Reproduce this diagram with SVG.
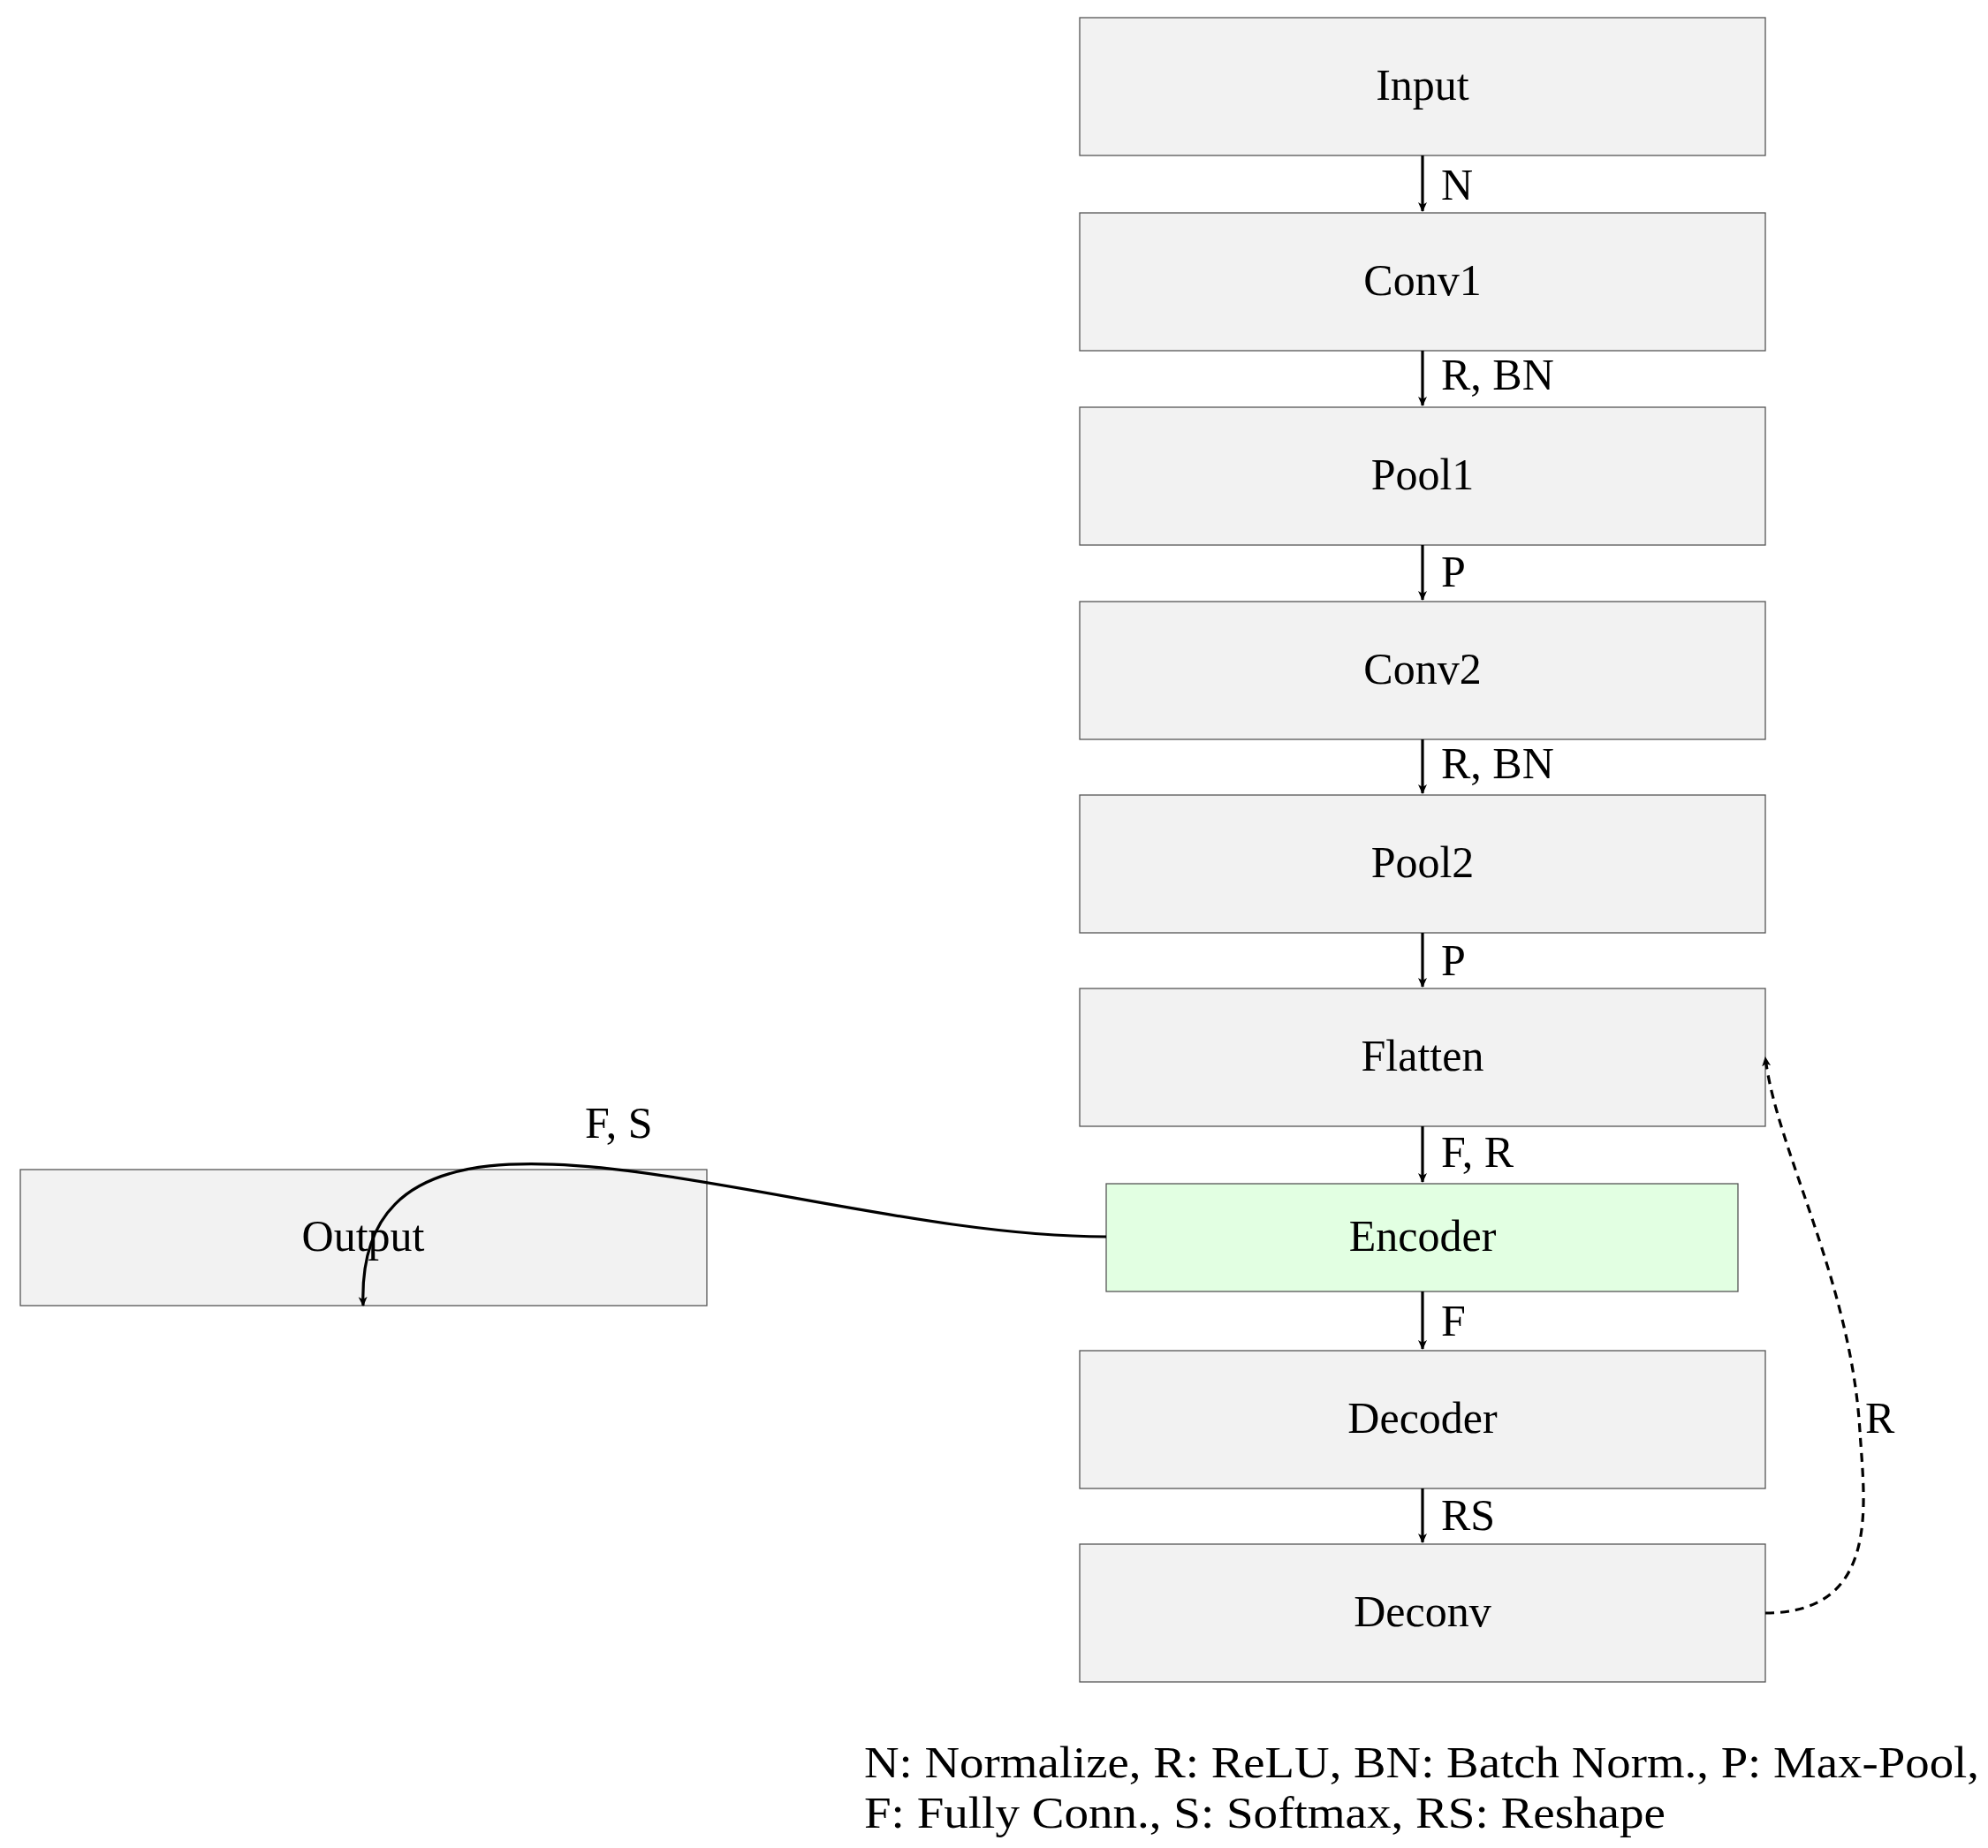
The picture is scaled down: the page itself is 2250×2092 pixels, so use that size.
<svg xmlns="http://www.w3.org/2000/svg" width="2250" height="2092" viewBox="0 0 2250 2092">
<style>
.b{fill:#f2f2f2;stroke:#555;stroke-width:1.3}
.e{fill:#e2ffe2;stroke:#555;stroke-width:1.3}
text{font-family:"Liberation Serif","DejaVu Serif",serif;font-size:50px;fill:#000}
.c{text-anchor:middle}
.a{stroke:#000;stroke-width:3.2;fill:none;marker-end:url(#h)}
</style>
<defs><marker id="h" markerWidth="12" markerHeight="12" refX="10" refY="6" orient="auto" markerUnits="userSpaceOnUse"><path d="M0,1 L11,6 L0,11 L3,6 Z" fill="#000"/></marker></defs>
<rect width="2250" height="2092" fill="#fff"/>
<g id="input"><rect class="b" x="1222" y="20" width="776" height="156"/><text class="c" x="1610" y="113">Input</text></g>
<g id="conv1"><rect class="b" x="1222" y="241" width="776" height="156"/><text class="c" x="1610" y="334">Conv1</text></g>
<g id="pool1"><rect class="b" x="1222" y="461" width="776" height="156"/><text class="c" x="1610" y="554">Pool1</text></g>
<g id="conv2"><rect class="b" x="1222" y="681" width="776" height="156"/><text class="c" x="1610" y="774">Conv2</text></g>
<g id="pool2"><rect class="b" x="1222" y="900" width="776" height="156"/><text class="c" x="1610" y="993">Pool2</text></g>
<g id="flatten"><rect class="b" x="1222" y="1119" width="776" height="156"/><text class="c" x="1610" y="1212">Flatten</text></g>
<g id="encoder"><rect class="e" x="1252" y="1340" width="715" height="122"/><text class="c" x="1610" y="1416">Encoder</text></g>
<g id="decoder"><rect class="b" x="1222" y="1529" width="776" height="156"/><text class="c" x="1610" y="1622">Decoder</text></g>
<g id="deconv"><rect class="b" x="1222" y="1748" width="776" height="156"/><text class="c" x="1610" y="1841">Deconv</text></g>
<g id="output"><rect class="b" x="23" y="1324" width="777" height="154"/><text class="c" x="411" y="1416">Output</text></g>
<g id="connectors">
<path class="a" d="M1610,176 V239"/><text x="1631" y="226">N</text>
<path class="a" d="M1610,397 V459"/><text x="1631" y="441">R, BN</text>
<path class="a" d="M1610,617 V679"/><text x="1631" y="664">P</text>
<path class="a" d="M1610,837 V898"/><text x="1631" y="881">R, BN</text>
<path class="a" d="M1610,1056 V1117"/><text x="1631" y="1104">P</text>
<path class="a" d="M1610,1275 V1338"/><text x="1631" y="1321">F, R</text>
<path class="a" d="M1610,1462 V1527"/><text x="1631" y="1512">F</text>
<path class="a" d="M1610,1685 V1746"/><text x="1631" y="1732">RS</text>
<path class="a" d="M1252,1400 C900,1400 400,1170 411,1478"/><text x="662" y="1288">F, S</text>
<path class="a" stroke-dasharray="10,7" d="M1998,1826 C2130,1826 2110,1700 2105,1620 C2095,1450 2010,1300 1998,1197"/><text x="2111" y="1622">R</text>
</g>
<text x="978" y="2012" textLength="1262" lengthAdjust="spacingAndGlyphs">N: Normalize, R: ReLU, BN: Batch Norm., P: Max-Pool,</text>
<text x="978" y="2069" textLength="907" lengthAdjust="spacingAndGlyphs">F: Fully Conn., S: Softmax, RS: Reshape</text>
</svg>
